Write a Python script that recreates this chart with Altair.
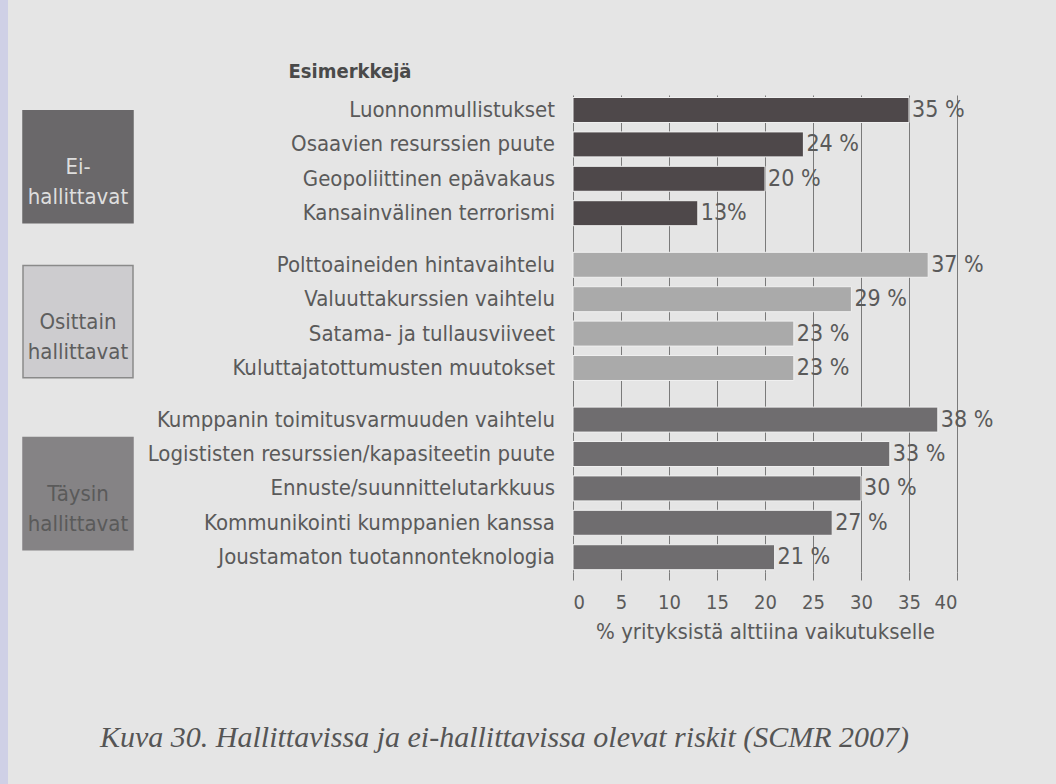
import altair as alt
import pandas as pd

# ---- data ----
group_names = ["Ei-\nhallittavat", "Osittain\nhallittavat", "Täysin\nhallittavat"]
items = [
    "Luonnonmullistukset",
    "Osaavien resurssien puute",
    "Geopoliittinen epävakaus",
    "Kansainvälinen terrorismi",
    "Polttoaineiden hintavaihtelu",
    "Valuuttakurssien vaihtelu",
    "Satama- ja tullausviiveet",
    "Kuluttajatottumusten muutokset",
    "Kumppanin toimitusvarmuuden vaihtelu",
    "Logististen resurssien/kapasiteetin puute",
    "Ennuste/suunnittelutarkkuus",
    "Kommunikointi kumppanien kanssa",
    "Joustamaton tuotannonteknologia",
]
item_group = [0, 0, 0, 0, 1, 1, 1, 1, 2, 2, 2, 2, 2]
values = [35, 24, 20, 13, 37, 29, 23, 23, 38, 33, 30, 27, 21]
value_labels = ["35 %", "24 %", "20 %", "13%", "37 %", "29 %", "23 %", "23 %",
                "38 %", "33 %", "30 %", "27 %", "21 %"]
x_ticks = [0, 5, 10, 15, 20, 25, 30, 35, 40]
header = "Esimerkkejä"
x_title = "% yrityksistä alttiina vaikutukselle"
caption = "Kuva 30. Hallittavissa ja ei-hallittavissa olevat riskit (SCMR 2007)"

# ---- styling ----
FONT = "DejaVu Sans Condensed, DejaVu Sans, sans-serif"
SERIF = "Liberation Serif, DejaVu Serif, serif"
BG = "#e5e5e5"
TEXT = "#5a5a5a"
bar_colors = ["#4e484a", "#aaaaaa", "#6f6d6f"]
box_fill = ["#6a686a", "#cdcccf", "#858385"]
box_text = ["#dedede", "#5e5e5e", "#5a5a5a"]
box_stroke = ["#6a686a", "#8a8a8a", "#858385"]

df = pd.DataFrame({
    "item": items,
    "g": item_group,
    "value": values,
    "vlabel": value_labels,
})
df["row"] = range(len(df))
df["pos"] = df["row"] + 0.5 * df["g"]
df["color"] = [bar_colors[g] for g in item_group]

gdf = df.groupby("g", as_index=False)["pos"].mean().rename(columns={"pos": "mid"})
gdf["name"] = group_names
gdf["fill"] = box_fill
gdf["tcolor"] = box_text
gdf["scolor"] = box_stroke

yscale = alt.Scale(domain=[-0.436, 13.43], reverse=True, nice=False, zero=False)
xscale = alt.Scale(domain=[0, 40], nice=False, zero=True)
xaxis = alt.Axis(
    values=x_ticks, grid=True, gridColor="#7a7a7a", gridWidth=1, domain=False,
    ticks=True, tickSize=8, tickColor="#7a7a7a", labelFont=FONT, labelFontSize=20,
    labelColor=TEXT, labelPadding=12, title=x_title, titleFont=FONT,
    titleFontSize=22, titleFontWeight="normal", titleColor=TEXT, titlePadding=9,
)

base = alt.Chart(df)

bars = base.transform_calculate(
    y0="datum.pos - 0.363", y1="datum.pos + 0.363"
).mark_rect(stroke="#f0f0f0", strokeWidth=1).encode(
    x=alt.X("value:Q", scale=xscale, axis=xaxis),
    x2=alt.datum(0),
    y=alt.Y("y0:Q", scale=yscale, axis=None),
    y2="y1:Q",
    color=alt.Color("color:N", scale=None, legend=None),
)

vlabels = base.mark_text(align="left", baseline="middle", dx=3, font=FONT,
                         fontSize=23, color=TEXT).encode(
    x=alt.X("value:Q", scale=xscale, axis=xaxis),
    y=alt.Y("pos:Q", scale=yscale, axis=None),
    text="vlabel:N",
)

clabels = base.mark_text(align="right", baseline="middle", font=FONT,
                         fontSize=22, color=TEXT).encode(
    x=alt.value(-18),
    y=alt.Y("pos:Q", scale=yscale, axis=None),
    text="item:N",
)

gbase = alt.Chart(gdf)
boxes = gbase.transform_calculate(
    b0="datum.mid - 1.48", b1="datum.mid + 1.78"
).mark_rect(strokeWidth=1.5).encode(
    x=alt.value(-550), x2=alt.value(-440),
    y=alt.Y("b0:Q", scale=yscale, axis=None), y2="b1:Q",
    fill=alt.Fill("fill:N", scale=None, legend=None),
    stroke=alt.Stroke("scolor:N", scale=None, legend=None),
)
box_labels = gbase.transform_calculate(
    tm="datum.mid + 0.15"
).mark_text(align="center", baseline="middle", font=FONT, fontSize=22,
            lineBreak="\n", lineHeight=30).encode(
    x=alt.value(-495),
    y=alt.Y("tm:Q", scale=yscale, axis=None),
    text="name:N",
    color=alt.Color("tcolor:N", scale=None, legend=None),
)

head = alt.Chart(pd.DataFrame({"t": [header]})).mark_text(
    align="center", baseline="middle", font=FONT, fontSize=20, fontWeight="bold",
    color="#4a4a4a").encode(x=alt.value(-223), y=alt.value(-23), text="t:N")

cap = alt.Chart(pd.DataFrame({"t": [caption]})).mark_text(
    align="left", baseline="middle", font=SERIF, fontSize=30, fontStyle="italic",
    color="#555555").encode(x=alt.value(-473), y=alt.value(643), text="t:N")

stripe = alt.Chart(pd.DataFrame({"t": [0]})).mark_rect(color="#cfd0e6").encode(
    x=alt.value(-573), x2=alt.value(-565), y=alt.value(-95), y2=alt.value(689))

chart = alt.layer(stripe, bars, vlabels, clabels, boxes, box_labels, head, cap).properties(
    width=384, height=477,
    autosize=alt.AutoSizeParams(type="none"),
    padding={"left": 573, "top": 95, "right": 99, "bottom": 212},
    background=BG,
).configure_view(stroke=None)

chart.save("out.html", embed_options={"renderer": "svg", "actions": False})
